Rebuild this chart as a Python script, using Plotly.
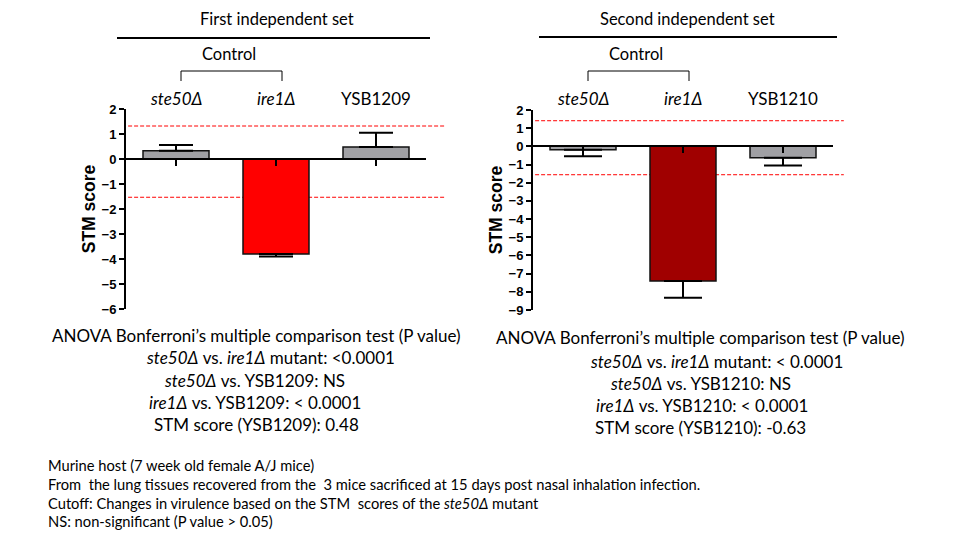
import plotly.graph_objects as go

# ---------------- data ----------------
categories1 = ["ste50Δ", "ire1Δ", "YSB1209"]
tick_labels1 = ["<i>ste50Δ</i>", "<i>ire1Δ</i>", "YSB1209"]
values1 = [0.33, -3.80, 0.48]
errors1 = [0.23, 0.10, 0.57]
cutoffs1 = [1.32, -1.53]

categories2 = ["ste50Δ", "ire1Δ", "YSB1210"]
tick_labels2 = ["<i>ste50Δ</i>", "<i>ire1Δ</i>", "YSB1210"]
values2 = [-0.18, -7.41, -0.63]
errors2 = [0.37, 0.91, 0.42]
cutoffs2 = [1.41, -1.56]

y_range1 = [-6, 2]
y_range2 = [-9, 2]

colors1 = ["#a0a0a4", "#ff0000", "#a0a0a4"]
colors2 = ["#a0a0a4", "#a00000", "#a0a0a4"]

titles = ["First independent set", "Second independent set"]
stats1 = [
    "ANOVA Bonferroni’s multiple comparison test (P value)",
    "<i>ste50Δ</i> vs. <i>ire1Δ</i> mutant: <0.0001",
    "<i>ste50Δ</i> vs. YSB1209: NS",
    "<i>ire1Δ</i> vs. YSB1209: < 0.0001",
    "STM score (YSB1209): 0.48",
]
stats2 = [
    "ANOVA Bonferroni’s multiple comparison test (P value)",
    "<i>ste50Δ</i> vs. <i>ire1Δ</i> mutant: < 0.0001",
    "<i>ste50Δ</i> vs. YSB1210: NS",
    "<i>ire1Δ</i> vs. YSB1210: < 0.0001",
    "STM score (YSB1210): -0.63",
]
footnotes = [
    "Murine host (7 week old female A/J mice)",
    "From  the lung tissues recovered from the  3 mice sacrificed at 15 days post nasal inhalation infection.",
    "Cutoff: Changes in virulence based on the STM  scores of the <i>ste50Δ</i> mutant",
    "NS: non-significant (P value > 0.05)",
]

# ---------------- layout helpers ----------------
W, H = 960, 535
OFF = 8  # page body margin offset compensation
TXT = "Lato"


def px(x):
    return (x - OFF) / W


def py(y):
    return 1 - (y - OFF) / H


xdom1 = [px(126), px(426)]
ydom1 = [py(309), py(109)]
xdom2 = [px(533), px(833)]
ydom2 = [py(310), py(110)]


def zero_pos(ydom, yr):
    return ydom[0] + (0 - yr[0]) / (yr[1] - yr[0]) * (ydom[1] - ydom[0])


fig = go.Figure()


def add_bars(cats, vals, errs, colors, xa, ya, capw):
    plus = [e if v >= 0 else 0 for v, e in zip(vals, errs)]
    minus = [e if v < 0 else 0 for v, e in zip(vals, errs)]
    fig.add_trace(go.Bar(
        x=cats, y=vals, width=0.66, xaxis=xa, yaxis=ya,
        marker=dict(color=colors, line=dict(color="#111111", width=1.5)),
        error_y=dict(type="data", symmetric=False, array=plus, arrayminus=minus,
                     color="black", thickness=2, width=capw),
        showlegend=False, hoverinfo="skip",
    ))


add_bars(categories1, values1, errors1, colors1, "x", "y", 17)
add_bars(categories2, values2, errors2, colors2, "x2", "y2", 19)

xcommon = dict(type="category", range=[-0.5, 2.5], showline=True, linecolor="black",
               linewidth=2, ticks="outside", ticklen=6, tickwidth=2, tickcolor="black",
               showticklabels=False, showgrid=False, zeroline=False, anchor="free")
ycommon = dict(dtick=1, showline=True, linecolor="black", linewidth=2, ticks="outside",
               ticklen=5, tickwidth=2, tickcolor="black", showgrid=False, zeroline=False,
               tickfont=dict(family="Liberation Sans", size=13, color="black", weight=700),
               title=dict(text="STM score", standoff=1,
                          font=dict(family="Liberation Sans", size=17.5, color="black", weight=700)))

fig.update_layout(
    width=W, height=H, margin=dict(l=0, r=0, t=0, b=0, pad=0, autoexpand=False),
    paper_bgcolor="white", plot_bgcolor="rgba(0,0,0,0)",
    xaxis=dict(domain=xdom1, position=zero_pos(ydom1, y_range1), **xcommon),
    yaxis=dict(domain=ydom1, range=y_range1, anchor="x", **ycommon),
    xaxis2=dict(domain=xdom2, position=zero_pos(ydom2, y_range2), **xcommon),
    yaxis2=dict(domain=ydom2, range=y_range2, anchor="x2", **ycommon),
    showlegend=False,
)

shapes = []
# cutoff dashed lines (below the bars)
for c in cutoffs1:
    shapes.append(dict(type="line", xref="x domain", yref="y", x0=0.007, x1=1.063, y0=c, y1=c,
                       line=dict(color="#ff0000", width=1, dash="4px,2px"), layer="below"))
for c in cutoffs2:
    shapes.append(dict(type="line", xref="x2 domain", yref="y2", x0=0.007, x1=1.036, y0=c, y1=c,
                       line=dict(color="#ff0000", width=1, dash="4px,2px"), layer="below"))
# header rules
shapes.append(dict(type="line", xref="paper", yref="paper", x0=px(117), x1=px(430),
                   y0=py(38), y1=py(38), line=dict(color="black", width=2)))
shapes.append(dict(type="line", xref="paper", yref="paper", x0=px(539), x1=px(837),
                   y0=py(37), y1=py(37), line=dict(color="black", width=2)))
# control brackets
for x0, x1 in [(181, 282), (588, 689)]:
    shapes.append(dict(type="path", xref="paper", yref="paper",
                       path=f"M {px(x0)},{py(81)} L {px(x0)},{py(71)} L {px(x1)},{py(71)} L {px(x1)},{py(81)}",
                       line=dict(color="black", width=1)))
fig.update_layout(shapes=shapes)

ann = []


def text(x, y, s, size, xanchor="center", xref="paper"):
    ann.append(dict(x=x if xref != "paper" else px(x), y=py(y), xref=xref, yref="paper",
                    text=s, showarrow=False, xanchor=xanchor, yanchor="middle", borderpad=0,
                    font=dict(family=TXT, size=size, color="black")))


text(277, 19, titles[0], 16.5)
text(687, 19, titles[1], 16.5)
text(229, 54, "Control", 16.5)
text(636, 54, "Control", 16.5)
for c, lab in zip(categories1, tick_labels1):
    text(c, 98, lab, 17, xref="x")
for c, lab in zip(categories2, tick_labels2):
    text(c, 98, lab, 17, xref="x2")

for s, xc, yc in zip(stats1, [256, 270, 255, 255, 256], [335, 357, 380, 402, 424]):
    text(xc, yc, s, 17)
for s, xc, yc in zip(stats2, [700, 716, 700, 702, 700], [337, 361, 383, 405, 427]):
    text(xc, yc, s, 17)
for s, yc in zip(footnotes, [465, 484, 503, 521]):
    text(47, yc, s, 14.7, xanchor="left")

fig.update_layout(annotations=ann)

fig.write_html("out.html")
